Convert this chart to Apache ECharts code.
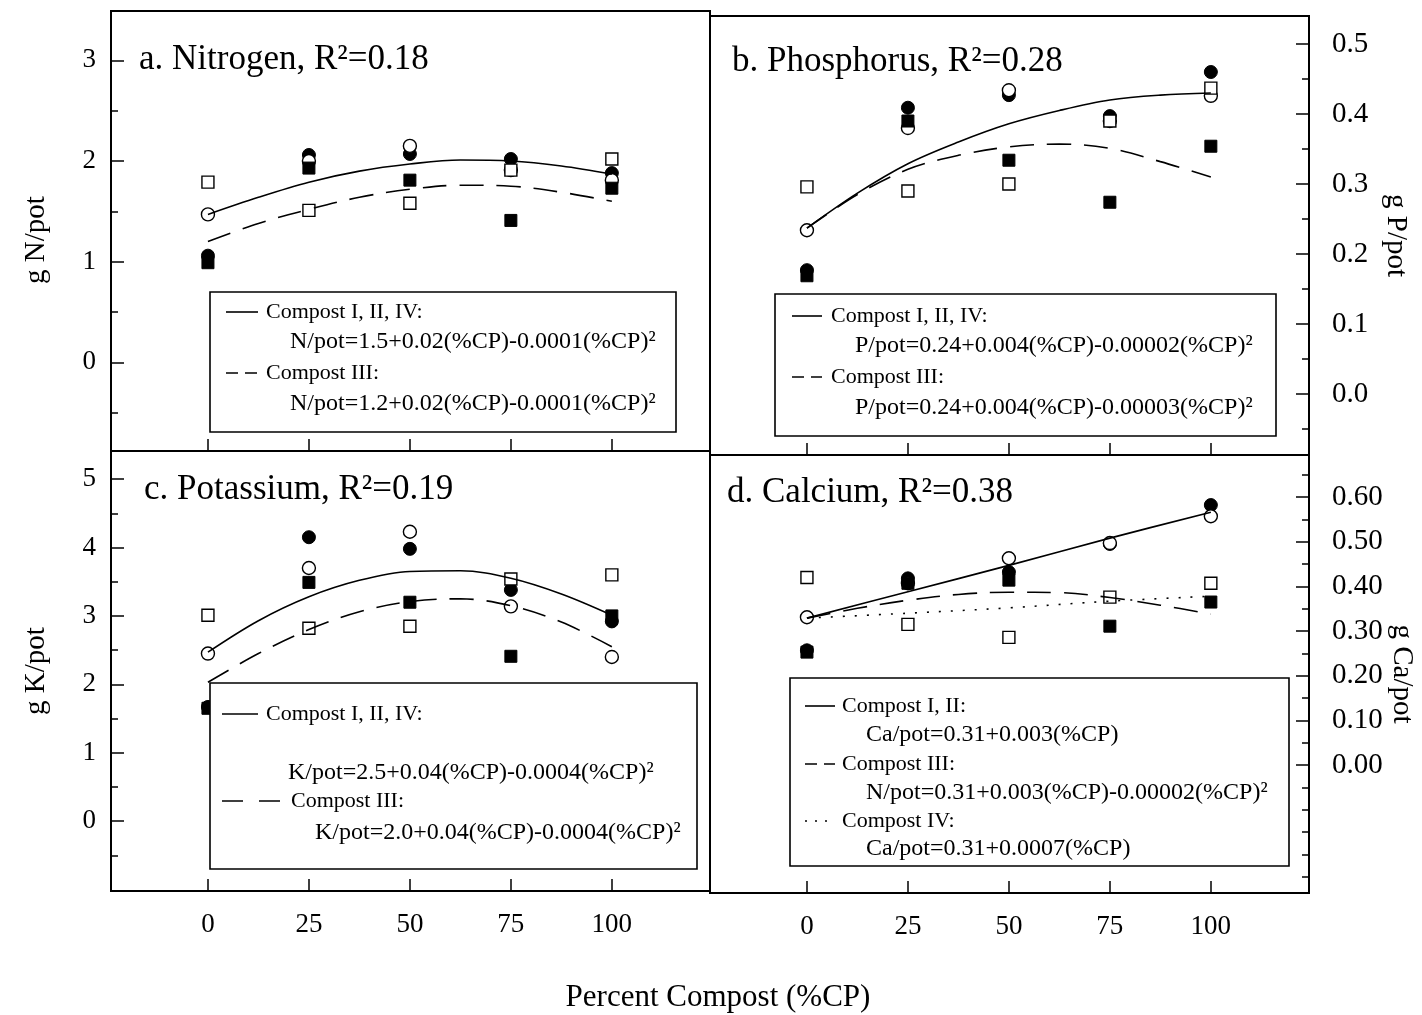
<!DOCTYPE html>
<html><head><meta charset="utf-8">
<script src="https://cdn.jsdelivr.net/npm/echarts@6/dist/echarts.min.js"></script>
<style>html,body{margin:0;padding:0;background:#fff}#c{width:1422px;height:1015px}</style>
</head><body><div id="c"></div>
<script>
const FONT = '"Liberation Serif", "Times New Roman", serif';

// ---- shared x values ----
const xPoints = [0, 25, 50, 75, 100];
const fitX = [0, 12.5, 25, 37.5, 50, 62.5, 75, 87.5, 100];
const xTickValues = [0, 25, 50, 75, 100];

// ---- a. Nitrogen (g N/pot) ----
const nCompostI   = [1.06, 2.06, 2.07, 2.02, 1.88];
const nCompostII  = [1.47, 2.00, 2.15, 1.91, 1.81];
const nCompostIII = [0.99, 1.93, 1.81, 1.41, 1.73];
const nCompostIV  = [1.79, 1.51, 1.58, 1.91, 2.02];
const nFitSolid   = [1.47, 1.64, 1.79, 1.90, 1.97, 2.01, 2.00, 1.95, 1.87];
const nFitDash    = [1.20, 1.38, 1.52, 1.64, 1.72, 1.76, 1.75, 1.69, 1.60];
const nMajor = [0, 1, 2, 3];
const nMinor = [-0.5, 0.5, 1.5, 2.5];

// ---- b. Phosphorus (g P/pot) ----
const pCompostI   = [0.177, 0.409, 0.427, 0.397, 0.460];
const pCompostII  = [0.234, 0.380, 0.434, 0.390, 0.426];
const pCompostIII = [0.169, 0.390, 0.334, 0.274, 0.354];
const pCompostIV  = [0.296, 0.290, 0.300, 0.390, 0.437];
const pFitSolid   = [0.237, 0.287, 0.329, 0.360, 0.386, 0.405, 0.420, 0.427, 0.430];
const pFitDash    = [0.237, 0.285, 0.321, 0.341, 0.353, 0.357, 0.351, 0.332, 0.310];
const pMajor = [0.0, 0.1, 0.2, 0.3, 0.4, 0.5];
const pMinor = [-0.05, 0.05, 0.15, 0.25, 0.35, 0.45];

// ---- c. Potassium (g K/pot) ----
const kCompostI   = [1.67, 4.15, 3.98, 3.38, 2.92];
const kCompostII  = [2.45, 3.70, 4.23, 3.14, 2.40];
const kCompostIII = [1.65, 3.49, 3.20, 2.41, 3.00];
const kCompostIV  = [3.01, 2.82, 2.85, 3.54, 3.60];
const kFitSolid   = [2.47, 2.93, 3.28, 3.52, 3.65, 3.66, 3.55, 3.32, 3.01];
const kFitDash    = [2.03, 2.45, 2.80, 3.06, 3.21, 3.25, 3.15, 2.91, 2.55];
const kMajor = [0, 1, 2, 3, 4, 5];
const kMinor = [-0.5, 0.5, 1.5, 2.5, 3.5, 4.5];

// ---- d. Calcium (g Ca/pot) ----
const caCompostI   = [0.257, 0.418, 0.432, 0.495, 0.582];
const caCompostII  = [0.331, 0.407, 0.463, 0.497, 0.557];
const caCompostIII = [0.253, 0.407, 0.414, 0.311, 0.365];
const caCompostIV  = [0.420, 0.315, 0.286, 0.376, 0.407];
const caFitSolid   = [0.329, 0.388, 0.447, 0.508, 0.566];
const caFitDash    = [0.329, 0.351, 0.369, 0.382, 0.387, 0.386, 0.375, 0.358, 0.338];
const caFitDot     = [0.329, 0.340, 0.352, 0.367, 0.378];
const caMajor = [0.0, 0.1, 0.2, 0.3, 0.4, 0.5, 0.6];
const caMinor = [-0.25, -0.2, -0.15, -0.1, -0.05, 0.05, 0.15, 0.25, 0.35, 0.45, 0.55, 0.65];

// ---- texts ----
const panelTitles = ['a. Nitrogen, R²=0.18', 'b. Phosphorus, R²=0.28', 'c. Potassium, R²=0.19', 'd. Calcium, R²=0.38'];
const axisNames = ['g N/pot', 'g P/pot', 'g K/pot', 'g Ca/pot'];
const xTitle = 'Percent Compost (%CP)';
const legendA = ['Compost I, II, IV:', 'N/pot=1.5+0.02(%CP)-0.0001(%CP)²', 'Compost III:', 'N/pot=1.2+0.02(%CP)-0.0001(%CP)²'];
const legendB = ['Compost I, II, IV:', 'P/pot=0.24+0.004(%CP)-0.00002(%CP)²', 'Compost III:', 'P/pot=0.24+0.004(%CP)-0.00003(%CP)²'];
const legendC = ['Compost I, II, IV:', 'K/pot=2.5+0.04(%CP)-0.0004(%CP)²', 'Compost III:', 'K/pot=2.0+0.04(%CP)-0.0004(%CP)²'];
const legendD = ['Compost I, II:', 'Ca/pot=0.31+0.003(%CP)', 'Compost III:', 'N/pot=0.31+0.003(%CP)-0.00002(%CP)²', 'Compost IV:', 'Ca/pot=0.31+0.0007(%CP)'];

// ---------------- build ----------------
const grids = [
  {left: 111, top: 11, width: 599, height: 440},
  {left: 710, top: 16, width: 599, height: 439},
  {left: 111, top: 451, width: 599, height: 440},
  {left: 710, top: 455, width: 599, height: 438}
].map(g => Object.assign({show: true, borderColor: '#000', borderWidth: 2, backgroundColor: 'transparent', containLabel: false}, g));

const XMIN = -24, XMAX = 124.3;
const xAxes = [0, 1, 2, 3].map(i => ({
  type: 'value', gridIndex: i, min: XMIN, max: XMAX, position: 'bottom',
  axisLine: {show: true, onZero: false, lineStyle: {color: '#000', width: 2}},
  axisTick: {show: true, inside: true, length: 12, customValues: xTickValues, lineStyle: {color: '#000', width: 1.5}},
  axisLabel: {show: i >= 2, customValues: xTickValues, fontFamily: FONT, fontSize: 27, color: '#000', margin: 20},
  splitLine: {show: false}
}));

const yDefs = [
  {min: -0.88, max: 3.49, pos: 'left', major: nMajor, minor: nMinor, fmt: v => String(v), gap: 60, rot: 90, fs: 27, pad: [0, 18, 0, 0]},
  {min: -0.087, max: 0.54, pos: 'right', major: pMajor, minor: pMinor, fmt: v => v.toFixed(1), gap: 72, rot: -90, fs: 29, pad: [0, 0, 0, 0]},
  {min: -1.02, max: 5.41, pos: 'left', major: kMajor, minor: kMinor, fmt: v => String(v), gap: 60, rot: 90, fs: 27, pad: [0, 0, 0, 0]},
  {min: -0.286, max: 0.694, pos: 'right', major: caMajor, minor: caMinor, fmt: v => v.toFixed(2), gap: 72, rot: -90, fs: 29, pad: [0, 0, 0, 0]}
];
const yAxes = [];
yDefs.forEach((d, i) => {
  yAxes.push({
    type: 'value', gridIndex: i, min: d.min, max: d.max, position: d.pos,
    axisLine: {show: true, onZero: false, lineStyle: {color: '#000', width: 2}},
    axisTick: {show: true, inside: true, length: 13, customValues: d.major, lineStyle: {color: '#000', width: 1.5}},
    axisLabel: {customValues: d.major, formatter: d.fmt, fontFamily: FONT, fontSize: d.fs, color: '#000', margin: d.pos === 'left' ? 15 : 23},
    splitLine: {show: false},
    name: axisNames[i], nameLocation: 'middle', nameGap: d.gap, nameRotate: d.rot,
    nameTextStyle: {fontFamily: FONT, fontSize: 29, color: '#000', padding: d.pad}
  });
});
yDefs.forEach((d, i) => {
  yAxes.push({
    type: 'value', gridIndex: i, min: d.min, max: d.max, position: d.pos,
    axisLine: {show: false, onZero: false},
    axisTick: {show: true, inside: true, length: 7, customValues: d.minor, lineStyle: {color: '#000', width: 1.5}},
    axisLabel: {show: false},
    splitLine: {show: false}
  });
});

function pts(xs, ys) { return xs.map((x, k) => [x, ys[k]]); }
function scat(g, ys, symbol, filled, name) {
  return {
    type: 'scatter', name: name, xAxisIndex: g, yAxisIndex: g, data: pts(xPoints, ys),
    symbol: symbol, symbolSize: symbol === 'circle' ? 13 : 12, z: 2, silent: true,
    itemStyle: filled ? {color: '#000', borderColor: '#000', borderWidth: 1, opacity: 1}
                      : {color: '#fff', borderColor: '#000', borderWidth: 1.4, opacity: 1}
  };
}
function fit(g, xs, ys, type, name) {
  return {
    type: 'line', name: name, xAxisIndex: g, yAxisIndex: g, data: pts(xs, ys),
    smooth: 0.35, showSymbol: false, z: 4, silent: true,
    lineStyle: {color: '#000', width: 1.6, type: type}
  };
}
const DASH = [24, 13], DOT = [2, 10];
function panelSeries(g, I, II, III, IV) {
  return [scat(g, I, 'circle', true, 'Compost I'), scat(g, II, 'circle', false, 'Compost II'),
          scat(g, III, 'rect', true, 'Compost III'), scat(g, IV, 'rect', false, 'Compost IV')];
}
const series = [].concat(
  panelSeries(0, nCompostI, nCompostII, nCompostIII, nCompostIV),
  [fit(0, fitX, nFitSolid, 'solid', 'Fit I, II, IV'), fit(0, fitX, nFitDash, DASH, 'Fit III')],
  panelSeries(1, pCompostI, pCompostII, pCompostIII, pCompostIV),
  [fit(1, fitX, pFitSolid, 'solid', 'Fit I, II, IV'), fit(1, fitX, pFitDash, DASH, 'Fit III')],
  panelSeries(2, kCompostI, kCompostII, kCompostIII, kCompostIV),
  [fit(2, fitX, kFitSolid, 'solid', 'Fit I, II, IV'), fit(2, fitX, kFitDash, DASH, 'Fit III')],
  panelSeries(3, caCompostI, caCompostII, caCompostIII, caCompostIV),
  [fit(3, xPoints, caFitSolid, 'solid', 'Fit I, II'), fit(3, fitX, caFitDash, DASH, 'Fit III'), fit(3, xPoints, caFitDot, DOT, 'Fit IV')]
);

// ---- titles ----
const titleStyle = {fontFamily: FONT, fontSize: 35, fontWeight: 'normal', color: '#000'};
const titles = [
  {text: panelTitles[0], left: 139, top: 42, padding: 0, textStyle: titleStyle},
  {text: panelTitles[1], left: 732, top: 44, padding: 0, textStyle: titleStyle},
  {text: panelTitles[2], left: 144, top: 472, padding: 0, textStyle: titleStyle},
  {text: panelTitles[3], left: 727, top: 475, padding: 0, textStyle: titleStyle},
  {text: xTitle, left: 718, top: 982, textAlign: 'center', padding: 0, textStyle: {fontFamily: FONT, fontSize: 31, fontWeight: 'normal', color: '#000'}}
];

// ---- legend boxes (graphic) ----
function txt(s, x, y, fs) {
  return {type: 'text', x: x, y: y, silent: true, style: {text: s, fontFamily: FONT, fontSize: fs, fill: '#000', verticalAlign: 'middle', align: 'left'}};
}
function sample(x1, x2, y, dash) {
  return {type: 'line', silent: true, shape: {x1: x1, y1: y, x2: x2, y2: y}, style: {stroke: '#000', lineWidth: 1.6, lineDash: dash || null}};
}
function box(x, y, w, h) {
  return {type: 'rect', silent: true, shape: {x: x, y: y, width: w, height: h}, style: {fill: '#fff', stroke: '#000', lineWidth: 1.6}};
}
// rows: [y, textX, sampleX1, sampleX2, dash] ; sample rows hold a label, others an equation
function legend(b, rows, texts) {
  const els = [box(b[0], b[1], b[2], b[3])];
  rows.forEach((r, k) => {
    if (r[2] != null) {
      els.push(sample(r[2], r[3], r[0], r[4]));
      els.push(txt(texts[k], r[1], r[0], 22));
    } else {
      els.push(txt(texts[k], r[1], r[0], 24));
    }
  });
  return els.map(e => Object.assign(e, {z: 10}));
}
const LD = [12, 7];
const graphics = [].concat(
  legend([210, 292, 466, 140], [
    [312, 266, 226, 258, null], [342, 290], [373, 266, 226, 258, LD], [404, 290]], legendA),
  legend([775, 294, 501, 142], [
    [316, 831, 792, 822, null], [346, 855], [377, 831, 792, 822, LD], [408, 855]], legendB),
  legend([210, 683, 487, 186], [
    [714, 266, 222, 258, null], [773, 288], [801, 291, 222, 280, [21, 16]], [833, 315]], legendC),
  legend([790, 678, 499, 188], [
    [706, 842, 805, 835, null], [735, 866], [764, 842, 805, 835, LD], [793, 866],
    [821, 842, 805, 835, [2, 8]], [849, 866]], legendD)
);
graphics.forEach(e => { if (e.type === 'line') { e.style.lineDash = e.style.lineDash; } });

const chart = echarts.init(document.getElementById('c'), null, {renderer: 'canvas'});
chart.setOption({
  backgroundColor: '#fff',
  animation: false,
  title: titles,
  grid: grids,
  xAxis: xAxes,
  yAxis: yAxes,
  series: series,
  graphic: {elements: graphics}
});
</script>
</body></html>
